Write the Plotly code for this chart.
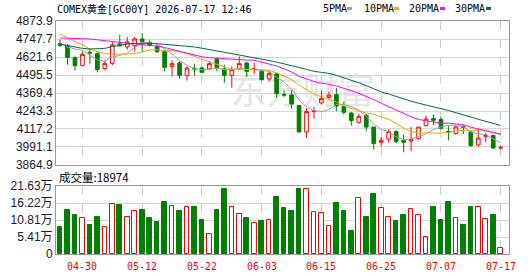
import plotly.graph_objects as go

dates = ["04-27","04-28","04-29","04-30","05-01","05-04","05-05","05-06","05-07","05-08",
         "05-11","05-12","05-13","05-14","05-15","05-18","05-19","05-20","05-21","05-22",
         "05-25","05-26","05-27","05-28","05-29","06-01","06-02","06-03","06-04","06-05",
         "06-08","06-09","06-10","06-11","06-12","06-15","06-16","06-17","06-18","06-19",
         "06-22","06-23","06-24","06-25","06-26","06-29","06-30","07-01","07-02","07-03",
         "07-06","07-07","07-08","07-09","07-10","07-13","07-14","07-15","07-16","07-17"]

open_ = [4715,4701,4617,4563,4654,4645,4540,4577,4713,4692,4701,4748,4724,4696,4661,4556,4580,4493,4542,4545,
         4538,4608,4538,4493,4538,4580,4535,4521,4468,4503,4360,4356,4281,4096,4239,4300,4339,4358,4276,4229,
         4164,4213,4131,4024,4047,4099,4038,4033,4050,4141,4190,4183,4101,4085,4133,4096,4005,4066,4071,3984]
high = [4743,4713,4626,4661,4682,4657,4598,4731,4778,4762,4762,4790,4738,4710,4673,4598,4591,4556,4575,4556,
        4591,4619,4568,4556,4626,4584,4580,4533,4521,4510,4388,4388,4283,4262,4271,4388,4379,4405,4311,4236,
        4225,4222,4131,4061,4113,4108,4078,4131,4131,4211,4218,4201,4141,4141,4145,4106,4117,4092,4078,4003]
low = [4692,4568,4526,4556,4575,4514,4528,4563,4696,4673,4661,4654,4696,4650,4521,4486,4472,4456,4491,4510,
       4533,4521,4442,4405,4533,4482,4503,4456,4451,4339,4341,4260,4094,4054,4188,4288,4330,4241,4218,4141,
       4155,4101,3973,3996,4024,4019,3954,3961,4043,4136,4145,4113,4038,4078,4082,3991,3994,4024,3977,3973]
close = [4703,4619,4561,4640,4650,4533,4575,4706,4699,4727,4748,4729,4703,4659,4549,4575,4493,4545,4538,4514,
         4575,4547,4493,4533,4575,4521,4540,4463,4505,4365,4355,4292,4096,4239,4244,4330,4355,4278,4234,4176,
         4206,4131,4015,4038,4099,4029,4024,4043,4131,4187,4178,4122,4096,4131,4128,4001,4054,4073,3984,3987]

ma5 = [4724,4692,4678,4668,4635,4601,4592,4621,4633,4648,4691,4722,4721,4713,4678,4643,4596,4564,4540,4533,
       4533,4544,4533,4532,4545,4534,4532,4526,4521,4479,4446,4396,4323,4270,4245,4240,4253,4289,4288,4275,
       4250,4205,4152,4113,4098,4062,4041,4047,4065,4083,4113,4132,4143,4143,4131,4096,4082,4077,4048,4020]
ma10 = [4783,4755,4731,4708,4678,4657,4645,4643,4641,4641,4646,4657,4671,4673,4663,4667,4659,4643,4627,4605,
        4588,4570,4549,4536,4539,4533,4538,4530,4527,4512,4490,4464,4425,4395,4362,4343,4324,4306,4279,4260,
        4245,4229,4221,4201,4186,4156,4123,4100,4089,4090,4088,4087,4095,4104,4107,4104,4107,4110,4095,4075]
ma20 = [4755,4754,4752,4750,4748,4742,4735,4728,4722,4718,4714,4710,4705,4698,4688,4676,4662,4650,4636,4623,
        4617,4613,4610,4605,4601,4600,4599,4586,4577,4559,4539,4517,4487,4466,4450,4438,4431,4418,4403,4386,
        4367,4347,4323,4298,4274,4250,4224,4203,4184,4175,4166,4158,4158,4152,4147,4130,4115,4105,4092,4083]
ma30 = [4712,4701,4690,4682,4678,4678,4682,4694,4705,4712,4717,4720,4718,4715,4711,4706,4704,4699,4692,4683,
        4674,4665,4655,4645,4636,4627,4617,4607,4597,4586,4575,4564,4548,4535,4521,4514,4507,4493,4477,4459,
        4441,4421,4398,4377,4362,4344,4329,4312,4298,4287,4274,4260,4247,4233,4218,4201,4185,4172,4155,4142]

volume = [86700,141000,125000,115000,93000,119000,86000,160000,157000,118000,
          137000,141000,116000,103000,167000,153000,138000,150000,151000,109000,
          63000,141000,206000,150000,127000,116000,98500,106000,108000,180000,
          145000,138000,206000,206000,134000,131000,89000,161000,138000,74000,
          179000,119000,190000,147000,118000,106000,125000,144000,124000,54000,
          148000,109000,167000,115000,93000,151000,148000,111000,125000,18974]

price_ticks = [3864.9, 3991.1, 4117.2, 4243.3, 4369.4, 4495.5, 4621.6, 4747.7, 4873.9]
vol_ticks = [0, 54075, 108150, 162225, 216300]
vol_tick_text = ["0", "5.41万", "10.81万", "16.22万", "21.63万"]
label_dates = ["04-30", "05-12", "05-22", "06-03", "06-15", "06-25", "07-07", "07-17"]

title_text = "COMEX黄金[GC00Y] 2026-07-17 12:46"
legend_names = ["5PMA", "10PMA", "20PMA", "30PMA"]
ma_colors = ["#a0a0a0", "#f5a300", "#ff00ff", "#00703a"]

RED = "#ff0000"
GREEN = "#008000"

W, H = 530, 276
ML, MR, MT, MB = 56, 21, 21, 22
PW, PH = W - ML - MR, H - MT - MB


def px(x):
    return (x - ML) / PW


def py(y):
    return (H - MB - y) / PH


idx = list(range(len(dates)))
tick_idx = [dates.index(d) for d in label_dates]
x_range = [-0.54, 60.11]

fig = go.Figure()

fig.add_trace(go.Candlestick(
    x=idx, open=open_, high=high, low=low, close=close,
    increasing=dict(line=dict(color=RED, width=1), fillcolor="white"),
    decreasing=dict(line=dict(color=GREEN, width=1), fillcolor=GREEN),
    whiskerwidth=0, xaxis="x", yaxis="y", hoverinfo="skip", showlegend=False))

for name, vals, col in zip(legend_names, [ma5, ma10, ma20, ma30], ma_colors):
    fig.add_trace(go.Scatter(x=idx, y=vals, mode="lines", line=dict(color=col, width=1),
                             xaxis="x", yaxis="y", name=name, showlegend=False, hoverinfo="skip"))

up = [c >= o for o, c in zip(open_, close)]
fig.add_trace(go.Bar(
    x=idx, y=volume, width=0.62,
    marker=dict(color=["white" if u else GREEN for u in up],
                line=dict(color=[RED if u else GREEN for u in up], width=1)),
    xaxis="x2", yaxis="y2", showlegend=False, hoverinfo="skip"))

axis_common = dict(showline=True, mirror=True, linecolor="#9a9a9a", linewidth=1, zeroline=False)

fig.update_layout(
    width=W, height=H, autosize=False,
    margin=dict(l=ML, r=MR, t=MT, b=MB),
    paper_bgcolor="white", plot_bgcolor="white",
    bargap=0,
    xaxis=dict(domain=[0, 1], anchor="y", range=x_range, tickvals=tick_idx, showticklabels=False,
               showgrid=True, gridcolor="#cfcfcf", griddash="dash", gridwidth=1,
               rangeslider=dict(visible=False), ticks="", **axis_common),
    yaxis=dict(domain=[py(165), 1], anchor="x", range=[price_ticks[0], price_ticks[-1]],
               tickvals=price_ticks, ticktext=[f"{v:.1f}" for v in price_ticks],
               showgrid=True, gridcolor="#d6d6d6", ticks="",
               tickfont=dict(family="Liberation Sans, Arial", size=12, color="#1a1a2a"), **axis_common),
    xaxis2=dict(domain=[0, 1], anchor="y2", range=x_range, tickvals=tick_idx, showticklabels=False,
                showgrid=True, gridcolor="#cfcfcf", griddash="dash", gridwidth=1, ticks="",
                **axis_common),
    yaxis2=dict(domain=[0, py(186)], anchor="x2", range=[vol_ticks[0], vol_ticks[-1]],
                tickvals=vol_ticks, ticktext=vol_tick_text, showgrid=True, gridcolor="#d6d6d6", ticks="",
                tickfont=dict(family="Liberation Sans, Noto Sans CJK SC", size=12, color="#1a1a2a"),
                **axis_common),
)

annotations = [
    dict(x=px(55), y=py(9), xref="paper", yref="paper", text=title_text, showarrow=False,
         xanchor="left", yanchor="middle",
         font=dict(family="DejaVu Sans Mono, Noto Sans CJK SC", size=10, color="black")),
    dict(x=px(57), y=py(177), xref="paper", yref="paper", text="成交量:18974", showarrow=False,
         xanchor="left", yanchor="middle",
         font=dict(family="Noto Sans CJK SC", size=11.5, color="black")),
]
for ti, lab in zip(tick_idx, label_dates):
    annotations.append(dict(x=ti, xref="x2", y=py(266), yref="paper", text=lab, showarrow=False,
                            xanchor="center", yanchor="middle",
                            font=dict(family="DejaVu Sans Mono", size=10, color=RED)))

legend_x = [321, 362, 407, 453]
square_x = [347, 394, 440, 486]
shapes = []
for name, lx, sx, col in zip(legend_names, legend_x, square_x, ma_colors):
    annotations.append(dict(x=px(lx), y=py(8.5), xref="paper", yref="paper", text=name, showarrow=False,
                            xanchor="left", yanchor="middle",
                            font=dict(family="DejaVu Sans Mono", size=10, color="black")))
    shapes.append(dict(type="rect", xref="paper", yref="paper", x0=px(sx), x1=px(sx + 5),
                       y0=py(10), y1=py(7), fillcolor=col, line=dict(width=0)))

shapes.append(dict(type="rect", xref="paper", yref="paper", x0=px(225), x1=px(380), y0=py(115), y1=py(72),
                   line=dict(width=0), fillcolor="rgba(0,0,0,0)", layer="below",
                   label=dict(text="东方财富", font=dict(family="Noto Sans CJK SC", size=36, color="#e6e6e6"),
                              textposition="middle center")))

fig.update_layout(annotations=annotations, shapes=shapes)

fig.write_html("out.html")
